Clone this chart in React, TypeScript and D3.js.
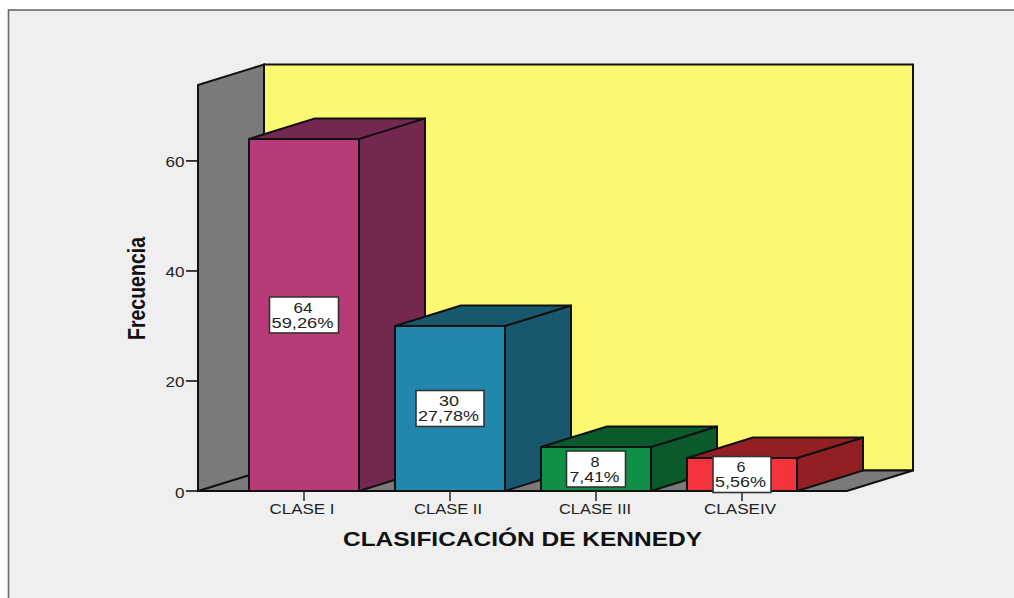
import React from "react";
import * as d3 from "d3";

const categories = ["CLASE I", "CLASE II", "CLASE III", "CLASEIV"];
const counts = [64, 30, 8, 6];
const percents = ["59,26%", "27,78%", "7,41%", "5,56%"];
const frontColors = ["#b83b78", "#2287ac", "#0f8f47", "#f4333c"];
const sideColors = ["#74274f", "#18586c", "#0b5a2c", "#941f23"];
const yTicks = [0, 20, 40, 60];
const tickLabelWidths = [65, 68, 72, 72];
const countWidths = [19, 20, 9, 9];
const percentWidths = [62, 61, 50, 51];
const boxWidths = [69, 68, 59, 58];

const DX = 66;
const DY = -20.5;
const AXIS_MAX = 73.8;
const FONT = "'Liberation Sans', Arial, sans-serif";
const INK = "#111";

const y = d3.scaleLinear().domain([0, AXIS_MAX]).range([491, 85]);
const x = d3.scaleBand<string>().domain(categories).range([231, 815]).paddingInner(0.2466).paddingOuter(0.1233);

const poly = (pts: [number, number][]) => (d3.line()(pts) ?? "") + "Z";

export default function App() {
  const y0 = y(0);
  const yTop = y(AXIS_MAX);
  const xL = 198;
  const xR = 847;
  return (
    <svg width={1014} height={598} style={{ position: "absolute", left: 0, top: 0 }} fontFamily={FONT}>
      <rect width={1014} height={598} fill="#fff" />
      <rect x={8.5} y={10} width={1010} height={595} fill="#efefef" stroke="#6a6a6a" strokeWidth={1.6} />

      {/* walls */}
      <path d={poly([[xL + DX, yTop + DY], [913, yTop + DY], [913, y0 + DY], [xL + DX, y0 + DY]])} fill="#fdf871" stroke={INK} strokeWidth={2} />
      <path d={poly([[xL, y0], [xL + DX, y0 + DY], [xR + DX, y0 + DY], [xR, y0]])} fill="#7a7a7a" stroke={INK} strokeWidth={2} />
      <path d={poly([[xL, yTop], [xL + DX, yTop + DY], [xL + DX, y0 + DY], [xL, y0]])} fill="#7a7a7a" stroke={INK} strokeWidth={2} />

      {/* axes */}
      {yTicks.map((t) => (
        <g key={t}>
          <line x1={186} x2={xL} y1={y(t)} y2={y(t)} stroke={INK} strokeWidth={1.6} />
          <text x={184.5} y={y(t) + 6.5} textAnchor="end" fontSize={15} fill="#222" textLength={t === 0 ? 9.5 : 19} lengthAdjust="spacingAndGlyphs">{t}</text>
        </g>
      ))}
      <line x1={xL} x2={xR} y1={y0} y2={y0} stroke={INK} strokeWidth={2} />

      {/* bars */}
      {categories.map((c, i) => {
        const l = x(c)!;
        const r = l + x.bandwidth();
        const t = y(counts[i]);
        return (
          <g key={c} stroke={INK} strokeWidth={2} strokeLinejoin="round">
            <path d={poly([[r, t], [r + DX, t + DY], [r + DX, y0 + DY], [r, y0]])} fill={sideColors[i]} />
            <path d={poly([[l, t], [l + DX, t + DY], [r + DX, t + DY], [r, t]])} fill={sideColors[i]} />
            <rect x={l} y={t} width={x.bandwidth()} height={y0 - t} fill={frontColors[i]} />
          </g>
        );
      })}

      {/* tick marks and category labels */}
      {categories.map((c, i) => {
        const cx = x(c)! + x.bandwidth() / 2;
        return (
          <g key={c}>
            <line x1={cx} x2={cx} y1={y0} y2={501} stroke="#333" strokeWidth={1.6} />
            <text x={cx - 2 + (i === 2 ? 1 : 0)} y={514} textAnchor="middle" fontSize={14} fill="#222" textLength={tickLabelWidths[i]} lengthAdjust="spacingAndGlyphs">{c}</text>
          </g>
        );
      })}

      {/* value labels */}
      {categories.map((c, i) => {
        const cx = x(c)! + x.bandwidth() / 2;
        const cy = y(counts[i] / 2);
        const w = boxWidths[i];
        return (
          <g key={c}>
            <rect x={cx - w / 2} y={cy - 18} width={w} height={36} fill="#fff" stroke="#333" strokeWidth={1.6} />
            <text x={cx - 1} y={cy - 2} textAnchor="middle" fontSize={14.5} fill="#222" textLength={countWidths[i]} lengthAdjust="spacingAndGlyphs">{counts[i]}</text>
            <text x={cx - 1.5} y={cy + 13} textAnchor="middle" fontSize={14.5} fill="#222" textLength={percentWidths[i]} lengthAdjust="spacingAndGlyphs">{percents[i]}</text>
          </g>
        );
      })}

      {/* axis titles */}
      <text x={343} y={546} fontSize={19.5} fontWeight="bold" fill="#111" textLength={359} lengthAdjust="spacingAndGlyphs">CLASIFICACIÓN DE KENNEDY</text>
      <text transform="translate(145,340) rotate(-90)" fontSize={23} fontWeight="bold" fill="#111" textLength={103} lengthAdjust="spacingAndGlyphs">Frecuencia</text>
    </svg>
  );
}
